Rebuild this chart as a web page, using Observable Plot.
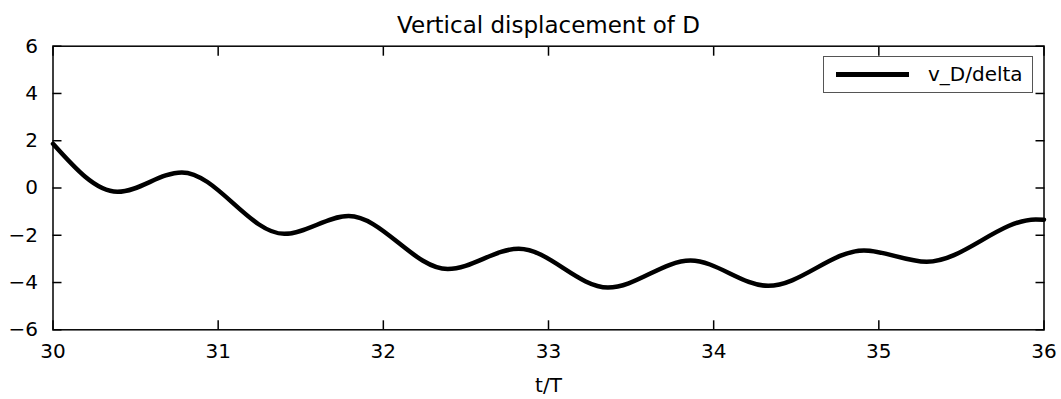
<!DOCTYPE html>
<html>
<head>
<meta charset="utf-8">
<script src="https://cdn.jsdelivr.net/npm/d3@7"></script>
<script src="https://cdn.jsdelivr.net/npm/@observablehq/plot@0.6"></script>
<style>
  html, body { margin: 0; padding: 0; background: white; }
  #wrap { position: relative; width: 1061px; height: 399px; font-family: "DejaVu Sans", sans-serif; }
  #legend { position: absolute; left: 823px; top: 56px; width: 208px; height: 35px; border: 1px solid #555; background: white; box-sizing: content-box; }
  #legend .sw { position: absolute; left: 12px; top: 14.5px; width: 73px; height: 5px; background: black; }
  #legend .lab { position: absolute; left: 104px; top: 6px; font-size: 20px; line-height: 22px; color: black; white-space: nowrap; }
</style>
</head>
<body>
<div id="wrap"></div>
<script>
const title = "Vertical displacement of D";
const xLabel = "t/T";
const seriesName = "v_D/delta";
const xTicks = [30, 31, 32, 33, 34, 35, 36];
const yTicks = [-6, -4, -2, 0, 2, 4, 6];
const tValues = [30.00, 30.39, 30.78, 31.40, 31.79, 32.39, 32.82, 33.36, 33.86, 34.33, 34.91, 35.29, 35.95, 36.00];
const vValues = [1.87, -0.16, 0.66, -1.94, -1.19, -3.43, -2.57, -4.21, -3.07, -4.14, -2.64, -3.12, -1.33, -1.34];

const data = tValues.map((t, i) => ({t, v: vValues[i]}));

const chart = Plot.plot({
  width: 1061,
  height: 399,
  marginLeft: 52.5,
  marginRight: 17.5,
  marginTop: 45.7,
  marginBottom: 69.7,
  style: {fontFamily: "DejaVu Sans", background: "white", color: "black", overflow: "visible"},
  x: {domain: [30, 36]},
  y: {domain: [-6, 6]},
  marks: [
    Plot.line(data, {x: "t", y: "v", stroke: "black", strokeWidth: 4.5, curve: "monotone-x"}),
    Plot.axisX({anchor: "bottom", ticks: xTicks, tickSize: -9, tickFormat: () => "", label: null, strokeWidth: 1.5}),
    Plot.axisX({anchor: "top", ticks: xTicks, tickSize: -9, tickFormat: () => "", label: null, strokeWidth: 1.5}),
    Plot.axisY({anchor: "left", ticks: yTicks, tickSize: -9, tickFormat: () => "", label: null, strokeWidth: 1.5}),
    Plot.axisY({anchor: "right", ticks: yTicks, tickSize: -9, tickFormat: () => "", label: null, strokeWidth: 1.5}),
    Plot.axisX({anchor: "bottom", ticks: xTicks, tickSize: 0, tickPadding: 14, fontSize: 20, label: null, tickFormat: d3.format("d")}),
    Plot.axisY({anchor: "left", ticks: yTicks, tickSize: 0, tickPadding: 15, fontSize: 20, label: null, tickFormat: d3.format("d")}),
    Plot.frame({stroke: "black", strokeWidth: 1.5}),
    Plot.text([title], {frameAnchor: "top", dy: -21, lineAnchor: "middle", fontSize: 23, fill: "black"}),
    Plot.text([xLabel], {frameAnchor: "bottom", dy: 56, lineAnchor: "middle", fontSize: 20, fill: "black"})
  ]
});

const wrap = document.getElementById("wrap");
wrap.appendChild(chart);
const legend = document.createElement("div");
legend.id = "legend";
legend.innerHTML = '<div class="sw"></div><div class="lab"></div>';
legend.querySelector(".lab").textContent = seriesName;
wrap.appendChild(legend);
</script>
</body>
</html>
